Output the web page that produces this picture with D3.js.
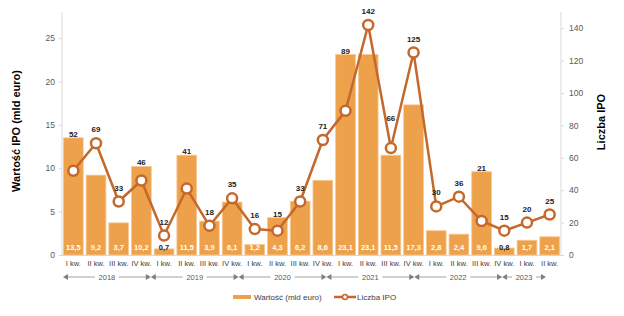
<!DOCTYPE html>
<html>
<head>
<meta charset="utf-8">
<script src="https://cdn.jsdelivr.net/npm/d3@7"></script>
<style>
  body { margin: 0; background: #fff; }
  text { font-family: "Liberation Sans", Arial, sans-serif; }
</style>
</head>
<body>
<div id="chart"></div>
<script>
// data
const quarters = ['I kw.', 'II kw.', 'III kw.', 'IV kw.',
    'I kw.', 'II kw.', 'III kw.', 'IV kw.',
    'I kw.', 'II kw.', 'III kw.', 'IV kw.',
    'I kw.', 'II kw.', 'III kw.', 'IV kw.',
    'I kw.', 'II kw.', 'III kw.', 'IV kw.',
    'I kw.', 'II kw.']
const years = ['2018', '2019', '2020', '2021', '2022', '2023']
const value = [13.5, 9.2, 3.7, 10.2, 0.7, 11.5, 3.9, 6.1, 1.2, 4.3, 6.2, 8.6,
    23.1, 23.1, 11.5, 17.3, 2.8, 2.4, 9.6, 0.8, 1.7, 2.1]
const count = [52, 69, 33, 46, 12, 41, 18, 35, 16, 15, 33, 71,
    89, 142, 66, 125, 30, 36, 21, 15, 20, 25]
const leftTicks = [0, 5, 10, 15, 20, 25]
const rightTicks = [0, 20, 40, 60, 80, 100, 120, 140]

let w = 624,
    h = 316,
    plotL = 62,
    plotR = 561,
    plotT = 12,
    plotB = 255

const barColor = '#eea14b',
    lineColor = '#c4682c',
    axisColor = '#d9d9d9',
    tickText = '#595959'

const fmt = v => String(v).replace('.', ',')

let svg = d3.select('#chart')
    .append('svg')
    .attr('width', w)
    .attr('height', h)

let x = d3.scaleBand()
    .domain(d3.range(quarters.length))
    .range([plotL, plotR])
    .paddingInner(0.13)
    .paddingOuter(0.065)
let yL = d3.scaleLinear().domain([0, 28]).range([plotB, plotT])
let yR = d3.scaleLinear().domain([0, 150]).range([plotB, plotT])
let cx = i => x(i) + x.bandwidth() / 2

// axes
let axL = svg.append('g')
    .attr('transform', `translate(${plotL},0)`)
    .call(d3.axisLeft(yL).tickValues(leftTicks).tickSize(3).tickPadding(4))
let axR = svg.append('g')
    .attr('transform', `translate(${plotR},0)`)
    .call(d3.axisRight(yR).tickValues(rightTicks).tickSize(3).tickPadding(5))
for (let ax of [axL, axR]) {
    ax.select('.domain').remove()
    ax.append('line').attr('y1', plotT).attr('y2', plotB).attr('stroke', axisColor)
    ax.selectAll('.tick line').attr('stroke', axisColor)
    ax.selectAll('.tick text').attr('fill', tickText).attr('font-size', 8.5)
}
svg.append('line')
    .attr('x1', plotL).attr('x2', plotR)
    .attr('y1', plotB + 0.5).attr('y2', plotB + 0.5)
    .attr('stroke', axisColor)

// axis titles
svg.append('text')
    .attr('transform', `translate(20,131) rotate(-90)`)
    .attr('text-anchor', 'middle')
    .attr('font-size', 11)
    .attr('font-weight', 'bold')
    .text('Wartość IPO (mld euro)')
svg.append('text')
    .attr('transform', `translate(605,122) rotate(-90)`)
    .attr('text-anchor', 'middle')
    .attr('font-size', 11)
    .attr('font-weight', 'bold')
    .text('Liczba IPO')

// bars
svg.selectAll('rect.bar')
    .data(value)
    .enter()
    .append('rect')
    .attr('class', 'bar')
    .attr('x', (d, i) => x(i))
    .attr('y', d => yL(d))
    .attr('width', x.bandwidth())
    .attr('height', d => plotB - yL(d))
    .attr('fill', barColor)
    .attr('stroke', '#f6c995')
    .attr('stroke-width', 0.8)

svg.selectAll('text.barlab')
    .data(value)
    .enter()
    .append('text')
    .attr('class', 'barlab')
    .text(d => fmt(d))
    .attr('x', (d, i) => cx(i))
    .attr('y', 250)
    .attr('text-anchor', 'middle')
    .attr('font-size', 7.5)
    .attr('font-weight', 'bold')
    .attr('fill', d => d < 1 ? '#222' : '#fff')

// line
let line = d3.line()
    .x((d, i) => cx(i))
    .y(d => yR(d))
svg.append('path')
    .attr('d', line(count))
    .attr('fill', 'none')
    .attr('stroke', lineColor)
    .attr('stroke-width', 2.5)
svg.selectAll('circle.pt')
    .data(count)
    .enter()
    .append('circle')
    .attr('class', 'pt')
    .attr('cx', (d, i) => cx(i))
    .attr('cy', d => yR(d))
    .attr('r', 5)
    .attr('fill', '#fff')
    .attr('stroke', lineColor)
    .attr('stroke-width', 2.5)

// line labels sit above the point or above the bar, whichever is higher
const nudge = { 14: -16 }
svg.selectAll('text.ptlab')
    .data(count)
    .enter()
    .append('text')
    .attr('class', 'ptlab')
    .text(d => d)
    .attr('x', (d, i) => cx(i))
    .attr('y', (d, i) => {
        let py = yR(d) - 11,
            by = yL(value[i]) - 1
        return Math.min(py, by) + (nudge[i] || 0)
    })
    .attr('text-anchor', 'middle')
    .attr('font-size', 8)
    .attr('font-weight', 'bold')
    .attr('fill', '#222')

// quarter labels
svg.selectAll('text.q')
    .data(quarters)
    .enter()
    .append('text')
    .attr('class', 'q')
    .text(d => d)
    .attr('x', (d, i) => cx(i))
    .attr('y', 266)
    .attr('text-anchor', 'middle')
    .attr('font-size', 7.5)
    .attr('fill', '#404040')

// year row with arrows (drawn slightly narrower than the plot, as in the source)
let yx = d3.scaleLinear().domain([0, quarters.length]).range([63, 546])
let yy = 277
let yearGroups = years.map((yr, k) => {
    let first = k * 4,
        last = Math.min(first + 4, quarters.length)
    return { yr, x0: yx(first), x1: yx(last) }
})
let yearG = svg.append('g')
yearGroups.forEach(g => {
    let mid = (g.x0 + g.x1) / 2
    let half = 12
    yearG.append('line')
        .attr('x1', g.x0 + 4).attr('x2', mid - half)
        .attr('y1', yy).attr('y2', yy)
        .attr('stroke', '#8c8c8c').attr('stroke-width', 0.8)
    yearG.append('line')
        .attr('x1', mid + half).attr('x2', g.x1 - 4)
        .attr('y1', yy).attr('y2', yy)
        .attr('stroke', '#8c8c8c').attr('stroke-width', 0.8)
    yearG.append('path')
        .attr('d', `M${g.x0},${yy}L${g.x0 + 5},${yy - 3}L${g.x0 + 5},${yy + 3}Z`)
        .attr('fill', '#7f7f7f')
    yearG.append('path')
        .attr('d', `M${g.x1},${yy}L${g.x1 - 5},${yy - 3}L${g.x1 - 5},${yy + 3}Z`)
        .attr('fill', '#7f7f7f')
    yearG.append('text')
        .text(g.yr)
        .attr('x', mid)
        .attr('y', yy + 2.5)
        .attr('text-anchor', 'middle')
        .attr('font-size', 7.5)
        .attr('fill', '#595959')
})

// legend
let lg = svg.append('g').attr('transform', 'translate(0,297)')
lg.append('rect')
    .attr('x', 233).attr('y', -2)
    .attr('width', 18).attr('height', 4)
    .attr('fill', barColor)
lg.append('text')
    .text('Wartość (mld euro)')
    .attr('x', 254).attr('y', 3)
    .attr('font-size', 8)
    .attr('fill', '#404040')
lg.append('line')
    .attr('x1', 334).attr('x2', 356)
    .attr('y1', 0).attr('y2', 0)
    .attr('stroke', lineColor)
    .attr('stroke-width', 2.5)
lg.append('circle')
    .attr('cx', 345).attr('cy', 0).attr('r', 2.5)
    .attr('fill', '#fff')
    .attr('stroke', lineColor)
    .attr('stroke-width', 1.5)
lg.append('text')
    .text('Liczba IPO')
    .attr('x', 357).attr('y', 3)
    .attr('font-size', 8)
    .attr('fill', '#404040')
</script>
</body>
</html>
